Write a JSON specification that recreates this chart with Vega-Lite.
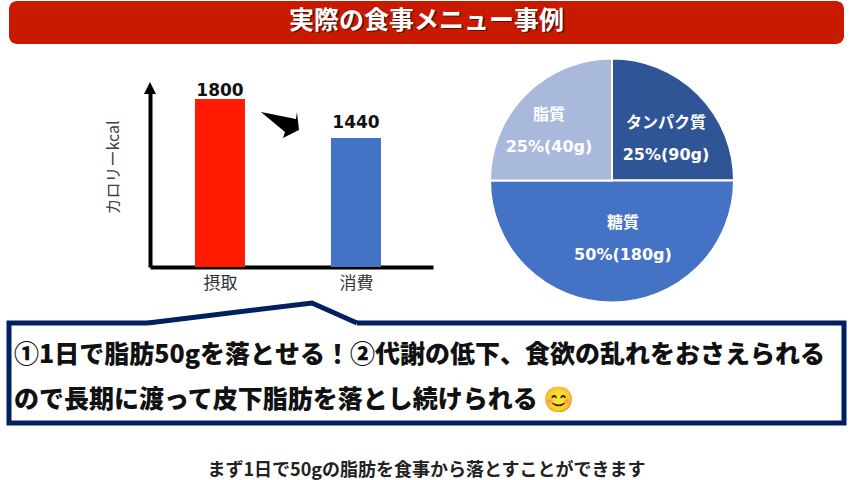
{
"$schema":"https://vega.github.io/schema/vega-lite/v6.json",
"padding":{"left":6,"top":1,"right":0,"bottom":0},
"background":"white",
"bounds":"flush",
"spacing":0,
"config":{"view":{"stroke":null},"font":"Noto Sans CJK JP"},
"vconcat":[
{"width":835,"height":43,"view":{"fill":"#C91A00","cornerRadius":8,"stroke":null},
 "data":{"values":[{"t":"実際の食事メニュー事例"}]},
 "layer":[
  {"mark":{"type":"text","fontSize":25,"fontWeight":"bold","color":"#5a1000","dx":1.5,"dy":-0.5},"encoding":{"text":{"field":"t"}}},
  {"mark":{"type":"text","fontSize":25,"fontWeight":"bold","color":"white","dy":-2},"encoding":{"text":{"field":"t"}}}
 ]},
{"width":835,"height":14,"data":{"values":[{"t":""}]},"mark":{"type":"text"},"encoding":{"text":{"field":"t"}}},
{"width":835,"height":244,
 "layer":[
  {"encoding":{
    "x":{"field":"cat","type":"nominal","scale":{"type":"point","domain":["軸","摂取","減少","消費"],"range":[141,424],"padding":0.581,"align":0.025},
      "axis":{"title":null,"values":["摂取","消費"],"ticks":false,"grid":false,"domainWidth":4,"domainColor":"black","offset":-35,"labelAngle":0,"labelFontSize":17,"labelColor":"#333333","labelPadding":8,"labelFont":"Noto Sans CJK JP"}},
    "y":{"field":"value","type":"quantitative","scale":{"domain":[249,1902],"range":[209,30],"nice":false,"zero":false},
      "axis":{"title":"カロリーkcal","values":[],"labels":false,"ticks":false,"grid":false,"domainWidth":4,"domainColor":"black","offset":-141,"titleFontSize":16,"titleFontWeight":"normal","titleColor":"#404040","titleFont":"Noto Sans CJK JP","titleX":-29,"titleY":109}}
   },
   "layer":[
    {"data":{"values":[{"cat":"摂取","value":1800},{"cat":"消費","value":1440}]},
     "mark":{"type":"bar","size":50},
     "encoding":{"y2":{"datum":249},"color":{"field":"cat","type":"nominal","legend":null,"scale":{"domain":["摂取","消費"],"range":["#FF1A00","#4472C4"]}}}},
    {"data":{"values":[{"cat":"摂取","value":1800,"label":"1800"}]},
     "mark":{"type":"text","fontSize":17,"fontWeight":"bold","font":"DejaVu Sans","color":"#111111","dy":-8},
     "encoding":{"text":{"field":"label"}}},
    {"data":{"values":[{"cat":"消費","value":1440,"label":"1440"}]},
     "mark":{"type":"text","fontSize":17,"fontWeight":"bold","font":"DejaVu Sans","color":"#111111","dy":-15},
     "encoding":{"text":{"field":"label"}}},
    {"data":{"values":[{"cat":"減少","value":1560}]},
     "mark":{"type":"point","filled":true,"color":"black","opacity":1,"size":1600,"shape":"M-1.35,-0.65L0.4,-0.3L0.45,-0.65L0.55,0.25L-0.25,0.65L-0.15,0.35Z"}},
    {"data":{"values":[{"cat":"軸","value":1902}]},
     "mark":{"type":"point","filled":true,"color":"black","opacity":1,"size":144,"shape":"M-1.33,1L-0.33,-1L0.67,1Z"}}
   ]},
  {"data":{"values":[{"name":"タンパク質","v":25,"i":1,"t":"タンパク質\n25%(90g)"},{"name":"糖質","v":50,"i":2,"t":"糖質\n50%(180g)"},{"name":"脂質","v":25,"i":3,"t":"脂質\n25%(40g)"}]},
   "encoding":{
    "x":{"datum":0,"type":"quantitative","scale":{"domain":[-1,1],"range":[481,725]},"axis":null},
    "y":{"datum":0,"type":"quantitative","scale":{"domain":[-1,1],"range":[244.5,0.5]},"axis":null}
   },
   "layer":[
    {"mark":{"type":"arc","outerRadius":122,"stroke":"white","strokeWidth":2},
     "encoding":{"theta":{"field":"v","type":"quantitative","stack":true},"order":{"field":"i"},
      "color":{"field":"name","type":"nominal","legend":null,"scale":{"domain":["タンパク質","糖質","脂質"],"range":["#2F5597","#4472C4","#A9B9DC"]}}}},
    {"transform":[{"filter":"datum.i==1"}],"mark":{"type":"text","fontSize":16,"fontWeight":"bold","font":"DejaVu Sans, Noto Sans CJK JP","color":"white","lineBreak":"\n","lineHeight":32,"dx":54,"dy":-58},"encoding":{"text":{"field":"t"}}},
    {"transform":[{"filter":"datum.i==2"}],"mark":{"type":"text","fontSize":16,"fontWeight":"bold","font":"DejaVu Sans, Noto Sans CJK JP","color":"white","lineBreak":"\n","lineHeight":32,"dx":11,"dy":42},"encoding":{"text":{"field":"t"}}},
    {"transform":[{"filter":"datum.i==3"}],"mark":{"type":"text","fontSize":16,"fontWeight":"bold","font":"DejaVu Sans, Noto Sans CJK JP","color":"white","lineBreak":"\n","lineHeight":32,"dx":-63,"dy":-66},"encoding":{"text":{"field":"t"}}}
   ]}
 ],
 "resolve":{"scale":{"x":"independent","y":"independent","color":"independent"},"axis":{"x":"independent","y":"independent"}}
},
{"width":835,"height":21,"data":{"values":[{"t":""}]},"mark":{"type":"text"},"encoding":{"text":{"field":"t"}}},
{"width":835,"height":100,"view":{"stroke":"#002060","strokeWidth":5},
 "layer":[
  {"data":{"values":[{"a":139,"b":100},{"a":303,"b":120},{"a":348,"b":100}]},
   "mark":{"type":"area","color":"white","opacity":1},
   "encoding":{
    "x":{"field":"a","type":"quantitative","scale":{"domain":[0,835],"nice":false,"zero":false},"axis":null},
    "y":{"field":"b","type":"quantitative","scale":{"domain":[0,100],"nice":false,"zero":false},"axis":null},
    "y2":{"datum":97}}},
  {"data":{"values":[{"a":139,"b":100},{"a":303,"b":120},{"a":348,"b":100}]},
   "mark":{"type":"line","color":"#002060","strokeWidth":5,"strokeJoin":"miter"},
   "encoding":{
    "x":{"field":"a","type":"quantitative","axis":null},
    "y":{"field":"b","type":"quantitative","axis":null}}},
  {"data":{"values":[{"t":"①1日で脂肪50gを落とせる！②代謝の低下、食欲の乱れをおさえられる\nので長期に渡って皮下脂肪を落とし続けられる 😊"}]},
   "mark":{"type":"text","fontSize":25,"fontWeight":900,"color":"#111111","align":"left","lineBreak":"\n","lineHeight":45},
   "encoding":{"x":{"datum":5,"type":"quantitative"},"y":{"datum":68,"type":"quantitative"},"text":{"field":"t"}}}
 ]},
{"width":835,"height":37,"data":{"values":[{"t":""}]},"mark":{"type":"text"},"encoding":{"text":{"field":"t"}}},
{"width":835,"height":20,"data":{"values":[{"t":"まず1日で50gの脂肪を食事から落とすことができます"}]},
 "mark":{"type":"text","fontSize":18,"fontWeight":"bold","color":"#222222","dy":1},"encoding":{"text":{"field":"t"}}}
]
}
